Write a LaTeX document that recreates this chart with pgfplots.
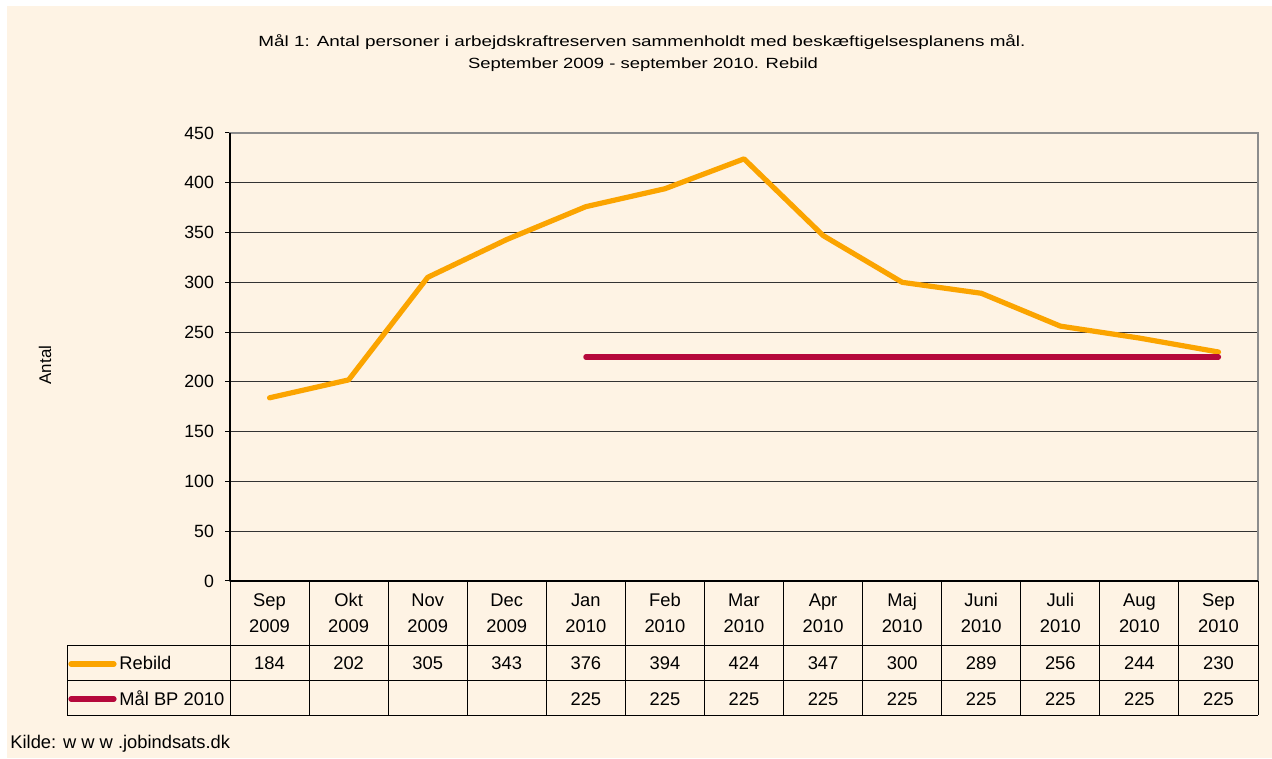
\documentclass[border=0pt]{standalone}
\usepackage{fontspec}
\setmainfont{Liberation Sans}
\usepackage{graphicx}
\usepackage{pgfplots}
\pgfplotsset{compat=1.18}
\definecolor{bgcream}{HTML}{FEF3E4}
\definecolor{rebild}{HTML}{FBA400}
\definecolor{maal}{HTML}{B5083B}
\definecolor{frame}{HTML}{8C8C8C}

\newcommand{\tabfont}{\fontsize{9.2}{12.5}\selectfont}

\begin{document}
\begin{tikzpicture}[x=0.5bp,y=0.5bp]
% canvas in pixel units, y upwards
\path[use as bounding box] (0,0) rectangle (1272,758);
\fill[white] (0,0) rectangle (1272,758);
\fill[bgcream] (7,0) rectangle (1272,752);

\begin{axis}[
    at={(115bp,88.5bp)}, anchor=south west,
    scale only axis,
    width=514bp, height=224bp,
    xmin=-0.5, xmax=12.5,
    ymin=0, ymax=450,
    xtick=\empty,
    ytick={0,50,...,450},
    ytick pos=left,
    tick align=outside,
    major tick length=2.5bp,
    tick style={black, line width=0.5bp},
    ymajorgrids,
    grid style={black!80, line width=0.5bp},
    axis line style={frame, line width=0.8bp},
    ticklabel style={font=\fontsize{8.9}{10}\selectfont},
    /pgf/number format/assume math mode=true,
    yticklabel style={xshift=-2bp},
    clip=false,
]
\addplot[rebild, line width=2.6bp, line cap=round, line join=round] coordinates {
    (0,184) (1,202) (2,305) (3,343) (4,376) (5,394) (6,424)
    (7,347) (8,300) (9,289) (10,256) (11,244) (12,230)
};
\addplot[maal, line width=2.6bp, line cap=round, line join=round] coordinates {
    (4,225) (5,225) (6,225) (7,225) (8,225) (9,225) (10,225) (11,225) (12,225)
};
\end{axis}

% axis lines left and bottom
\draw[black, line width=0.6bp] (230,177) -- (230,625);
\draw[black, line width=0.6bp] (230,177) -- (1258,177);

% data table
\foreach \k in {0,...,13} {
    \draw[black, line width=0.5bp] ({230+79.077*\k},177) -- ({230+79.077*\k},43);
}
\draw[black, line width=0.5bp] (67,113) -- (1258,113);
\draw[black, line width=0.5bp] (67,78) -- (1258,78);
\draw[black, line width=0.5bp] (67,43) -- (1258,43);
\draw[black, line width=0.5bp] (67,113) -- (67,43);

\foreach \m/\yr [count=\i from 0] in {Sep/2009,Okt/2009,Nov/2009,Dec/2009,Jan/2010,Feb/2010,Mar/2010,Apr/2010,Maj/2010,Juni/2010,Juli/2010,Aug/2010,Sep/2010} {
    \node[anchor=base, font=\tabfont, inner sep=0pt] at ({230+79.077*(\i+0.5)},152) {\m};
    \node[anchor=base, font=\tabfont, inner sep=0pt] at ({230+79.077*(\i+0.5)},126) {\yr};
}
\foreach \v [count=\i from 0] in {184,202,305,343,376,394,424,347,300,289,256,244,230} {
    \node[anchor=base, font=\tabfont, inner sep=0pt] at ({230+79.077*(\i+0.5)},89) {\v};
}
\foreach \v [count=\i from 4] in {225,225,225,225,225,225,225,225,225} {
    \node[anchor=base, font=\tabfont, inner sep=0pt] at ({230+79.077*(\i+0.5)},53) {\v};
}

% legend keys in the table
\draw[rebild, line width=2.6bp, line cap=round] (71,94) -- (114,94);
\node[anchor=base west, font=\tabfont, inner sep=0pt] at (119,89) {Rebild};
\draw[maal, line width=2.6bp, line cap=round] (71,59) -- (114,59);
\node[anchor=base west, font=\tabfont, inner sep=0pt] at (119,53) {Mål BP 2010};

% titles and labels
\node[anchor=base, font=\fontsize{7.4}{9}\selectfont, inner sep=0pt] at (642,711)
    {\resizebox{383.5bp}{\height}{Mål 1: Antal personer i arbejdskraftreserven sammenholdt med beskæftigelsesplanens mål.}};
\node[anchor=base, font=\fontsize{7.4}{9}\selectfont, inner sep=0pt] at (643,689)
    {\resizebox{175bp}{\height}{September 2009 - september 2010. Rebild}};
\node[rotate=90, font=\fontsize{8.5}{10}\selectfont, inner sep=0pt] at (45,393) {Antal};
\node[anchor=base west, font=\fontsize{9.2}{10}\selectfont, inner sep=0pt] at (10,10) {Kilde: w w w .jobindsats.dk};
\end{tikzpicture}
\end{document}
